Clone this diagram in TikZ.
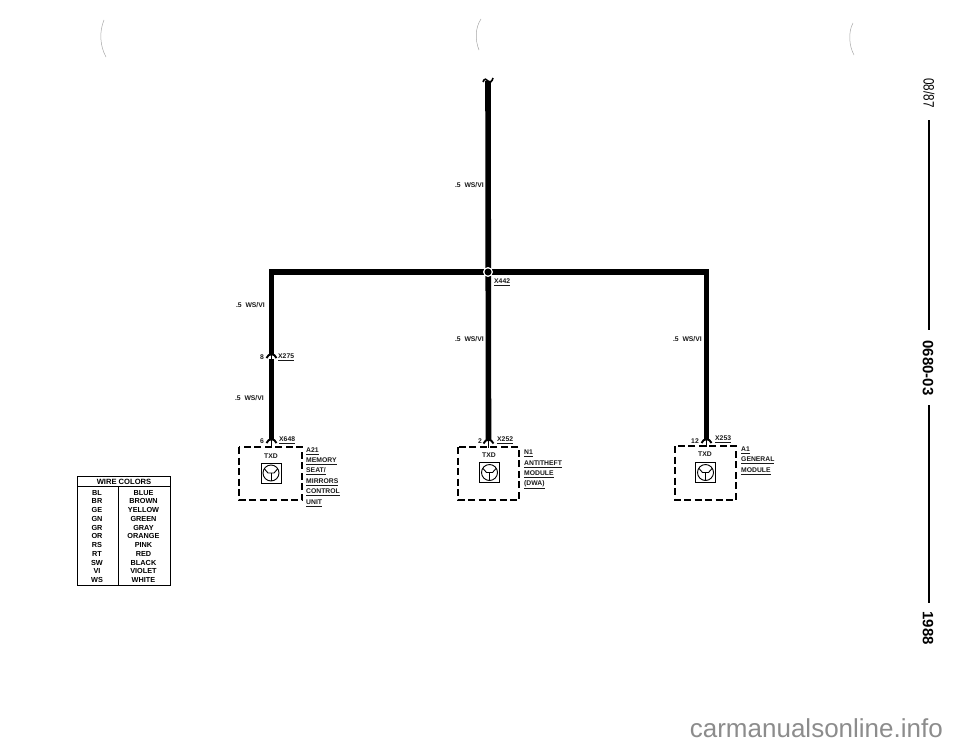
\documentclass[tikz,border=0pt]{standalone}
\usepackage{fontspec}
\setmainfont{Liberation Sans}
\usetikzlibrary{calc}
\tikzset{
  x=1pt,y=-1pt,
  wire/.style={line width=5.6pt,black},
  lbl/.style={font=\bfseries\fontsize{6.8}{7}\selectfont,inner sep=0pt,text=black!90},
  ulbl/.style={lbl,anchor=west},
  modbox/.style={draw,line width=1.6pt,dash pattern=on 7pt off 3.5pt},
  sym/.style={draw,line width=1pt,minimum size=20pt,inner sep=0pt},
  tbl/.style={font=\bfseries\fontsize{7.3}{7.5}\selectfont,inner sep=0pt},
  side/.style={font=\fontsize{15}{15}\selectfont,rotate=-90,inner sep=0pt},
  sideb/.style={side,font=\bfseries\fontsize{15}{15}\selectfont},
  sline/.style={line width=1.5pt},
  faint/.style={black!35,line width=.5pt}
}
\newcommand{\ul}[1]{\underline{#1}}
\newcommand{\trans}[1]{%
  \draw[line width=.9pt] (#1) circle (8pt);
  \draw[line width=.9pt] ($(#1)+(-6.5,-4)$) -- ($(#1)+(-3,0)$) -- ($(#1)+(3,0)$) -- ($(#1)+(6.5,-4)$);
  \draw[line width=.9pt] ($(#1)+(0,0)$) -- ($(#1)+(0,8)$);
}
\newcommand{\pin}[1]{%
  \draw[line width=1.9pt] ($(#1)+(-5,3)$) .. controls ($(#1)+(-3,-2)$) and ($(#1)+(3,-2)$) .. ($(#1)+(5,3)$);
  \draw[line width=1.5pt] ($(#1)+(0,0)$) -- ($(#1)+(0,7)$);
}
\begin{document}
\begin{tikzpicture}
\useasboundingbox (0,0) rectangle (960,744);
% faint marks
\draw[faint] (104,20) .. controls (99,32) and (100,46) .. (106,57);
\draw[faint] (481,19) .. controls (475,28) and (475,40) .. (479,50);
\draw[faint] (853,23) .. controls (848,32) and (849,46) .. (854,55);
% coordinates
\coordinate (top) at (488,81);
\coordinate (sp) at (488,272);
\coordinate (hl) at (271.5,272);
\coordinate (hr) at (706.5,272);
\coordinate (x275) at (271.5,355);
\coordinate (x648) at (271.5,440);
\coordinate (x252) at (488.5,440.5);
\coordinate (x253) at (706.5,440);
% wires
\draw[wire] (top) -- (x252);
\draw[wire] ($(x275)+(0,4)$) -- (x648);
\draw[wire,line join=miter] (x275) -- (hl) -- (hr) -- (x253);
% splice
\fill[white] (sp) circle (5pt);
\node[circle,fill=black,minimum size=7pt,inner sep=0pt] (spdot) at (sp) {};
% pins
\fill[white] ($(x275)+(-7,1)$) rectangle ($(x275)+(7,4)$);
\pin{x275}
\pin{x648}
\pin{x252}
\pin{x253}
% top squiggle
\draw[line width=1.6pt] (483,82) .. controls (484,78) and (487,79) .. (488,81) .. controls (490,83) and (492,82) .. (493,78);
% wire labels
\node[lbl,anchor=east] (w1) at (484,185) {.5 \ WS/VI};
\node[lbl,anchor=east] (w2) at (265,305) {.5 \ WS/VI};
\node[lbl,anchor=east] (w3) at (264,398) {.5 \ WS/VI};
\node[lbl,anchor=east] (w4) at (484,339) {.5 \ WS/VI};
\node[lbl,anchor=east] (w5) at (702,339) {.5 \ WS/VI};
\node[ulbl] (lx442) at (494,282) {\ul{X442}};
\node[ulbl] (lx275) at (278,357) {\ul{X275}};
\node[lbl] (p8) at (262,357) {8};
\node[ulbl] (lx648) at (279,440) {\ul{X648}};
\node[lbl] (p6) at (262,441) {6};
\node[ulbl] (lx252) at (497,440) {\ul{X252}};
\node[lbl] (p2) at (480,441) {2};
\node[ulbl] (lx253) at (715,439) {\ul{X253}};
\node[lbl] (p12) at (695,441) {12};
% boxes
\draw[modbox] (239,447) rectangle (302,500);
\draw[modbox] (458,447) rectangle (519,500);
\draw[modbox] (675,446) rectangle (736,500);
\node[lbl] (t1) at (271,456) {TXD};
\node[lbl] (t2) at (489,455) {TXD};
\node[lbl] (t3) at (705,454) {TXD};
\node[sym] (s1) at (271,473) {}; \trans{s1.center}
\node[sym] (s2) at (489.5,472.5) {}; \trans{s2.center}
\node[sym] (s3) at (705.5,472.5) {}; \trans{s3.center}
% module labels
\node[ulbl] (a1) at (306,451) {\ul{A21}};
\node[ulbl] (a2) at (306,461) {\ul{MEMORY}};
\node[ulbl] (a3) at (306,471.5) {\ul{SEAT/}};
\node[ulbl] (a4) at (306,482) {\ul{MIRRORS}};
\node[ulbl] (a5) at (306,492.5) {\ul{CONTROL}};
\node[ulbl] (a6) at (306,503) {\ul{UNIT}};
\node[ulbl] (b1) at (524,453) {\ul{N1}};
\node[ulbl] (b2) at (524,464) {\ul{ANTITHEFT}};
\node[ulbl] (b3) at (524,474.5) {\ul{MODULE}};
\node[ulbl] (b4) at (524,485) {\ul{(DWA)}};
\node[ulbl] (c1) at (741,450) {\ul{A1}};
\node[ulbl] (c2) at (741,460.5) {\ul{GENERAL}};
\node[ulbl] (c3) at (741,471) {\ul{MODULE}};
% table
\draw[line width=1pt] (77,476.5) rectangle (170,585);
\draw[line width=1pt] (77,486) -- (170,486);
\draw[line width=1pt] (118,486) -- (118,585);
\node[tbl,font=\bfseries\fontsize{7.6}{8}\selectfont] (th) at (124,481.5) {WIRE COLORS};
\foreach \a/\b [count=\i from 0] in {BL/BLUE,BR/BROWN,GE/YELLOW,GN/GREEN,GR/GRAY,OR/ORANGE,RS/PINK,RT/RED,SW/BLACK,VI/VIOLET,WS/WHITE}{
  \node[tbl] (ca\i) at (97,{492.7+8.73*\i}) {\a};
  \node[tbl] (cb\i) at (143.5,{492.7+8.73*\i}) {\b};
}
% side strip
\node[side] (d) at (929,93) {\scalebox{0.78}[1]{08/87}};
\draw[sline] (929,120) -- (929,330);
\node[sideb] (code) at (928,368) {0680-03};
\draw[sline] (929,405) -- (929,603);
\node[sideb] (yr) at (928,628) {1988};
% watermark
\node[font=\fontsize{26}{26}\selectfont,text=black!45,anchor=east,inner sep=0pt] (wm) at (943,728) {carmanualsonline.info};
\end{tikzpicture}
\end{document}
